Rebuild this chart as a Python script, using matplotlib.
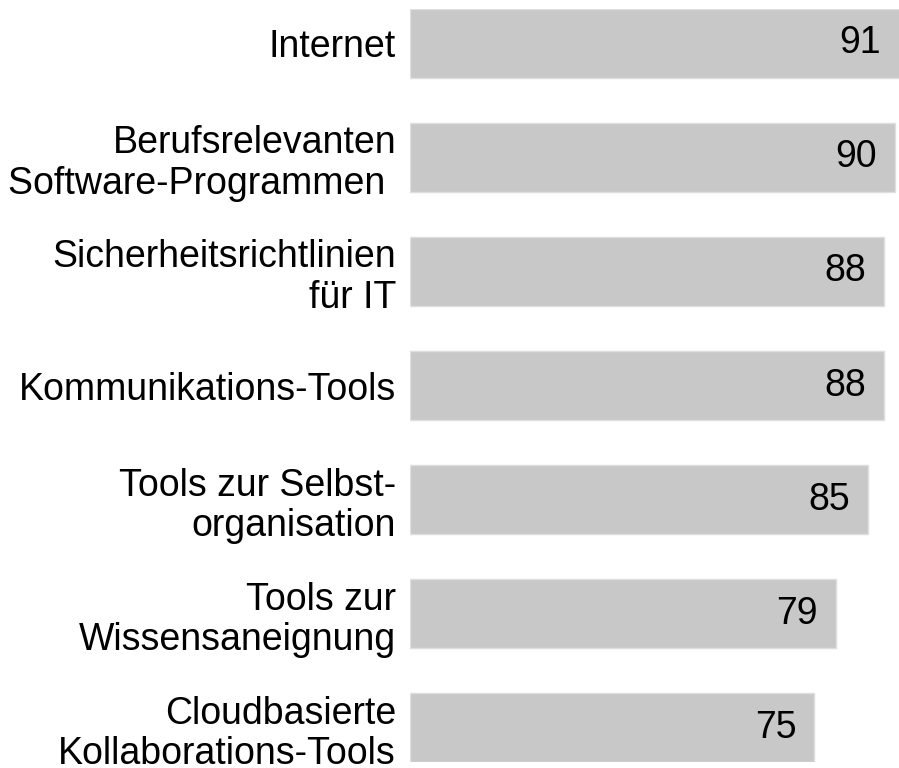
import matplotlib.pyplot as plt

categories = [
    "Internet",
    "Berufsrelevanten\nSoftware-Programmen ",
    "Sicherheitsrichtlinien\nfür IT",
    "Kommunikations-Tools",
    "Tools zur Selbst-\norganisation",
    "Tools zur\nWissensaneignung",
    "Cloudbasierte\nKollaborations-Tools",
]
values = [91, 90, 88, 88, 85, 79, 75]

plt.rcParams['font.family'] = ['Liberation Sans', 'DejaVu Sans']

fig = plt.figure(figsize=(8.99, 7.68), dpi=100)
ax = fig.add_axes([410 / 899, 6 / 768, 489 / 899, 753 / 768])

pos = list(range(len(categories)))
bh = 0.605
ax.barh(pos, values, height=bh, color='#c8c8c8', edgecolor='#dedede', linewidth=1)

for y, v in zip(pos, values):
    ax.annotate(str(v), xy=(min(v, 90.7), y), xytext=(-18, 0),
                textcoords='offset pixels', ha='right', va='center',
                fontsize=27, color='black')

ax.set_xlim(0, 90.7)
ax.set_ylim(len(categories) - 1 + bh / 2, -bh / 2)
ax.set_yticks(pos)
ax.set_yticklabels(categories, fontsize=27, color='black', ha='right',
                   linespacing=1.17)
ax.tick_params(axis='y', length=0, pad=10)
ax.set_xticks([])
for s in ax.spines.values():
    s.set_visible(False)

fig.savefig('out.png', dpi=100)
